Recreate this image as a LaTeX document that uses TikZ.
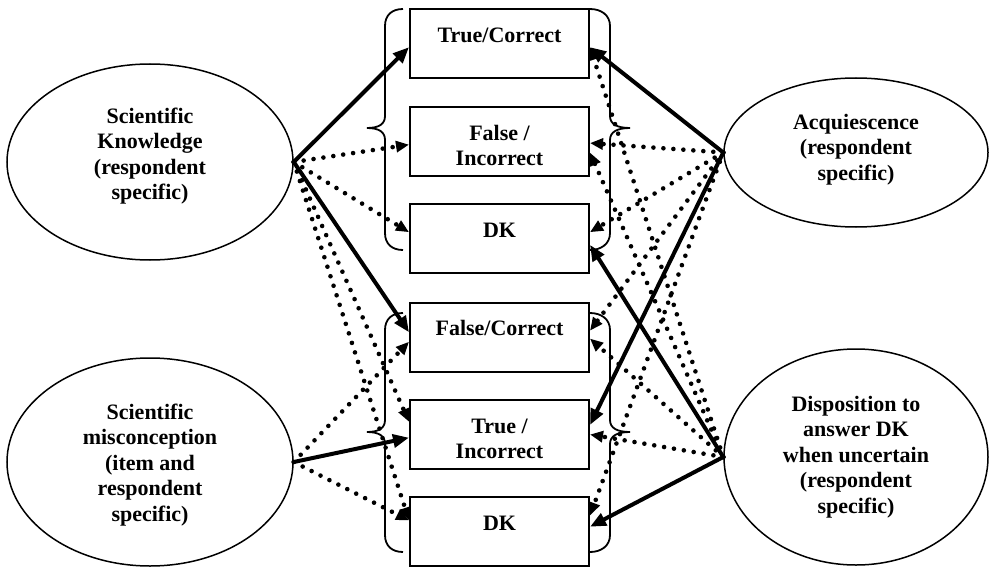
\documentclass[tikz,border=0pt]{standalone}
\usepackage{fontspec}
\setmainfont{Liberation Serif}
\usetikzlibrary{arrows.meta,shapes.geometric}
\newcommand{\topstrut}{\rule{0pt}{23pt}}
\begin{document}
\begin{tikzpicture}[x=1pt,y=-1pt,
  every node/.style={font=\bfseries\fontsize{22}{25.5}\selectfont},
  ell/.style={draw, ellipse, line width=1.5pt, inner sep=0pt},
  lbl/.style={align=center, inner sep=0pt},
  box/.style={draw, rectangle, line width=2pt, minimum width=179pt, minimum height=69pt, align=center, inner sep=0pt},
  brace/.style={line width=1.8pt},
  sol/.style={line width=4pt, -{Triangle[length=16pt,width=13pt]}},
  dot/.style={line width=4.6pt, line cap=round, dash pattern=on 0pt off 10pt, -{Triangle[length=13pt,width=11pt]}}]
\useasboundingbox (0,0) rectangle (990,567);
% latent variables
\node[ell, minimum width=286pt, minimum height=196pt] (sk) at (150,162) {};
\node[lbl] (skt) at ([yshift=6pt]sk.center) {Scientific\\Knowledge\\(respondent\\specific)};
\node[ell, minimum width=286pt, minimum height=208pt] (misc) at (150,462) {};
\node[lbl] (misct) at ([yshift=-3pt]misc.center) {Scientific\\misconception\\(item and\\respondent\\specific)};
\node[ell, minimum width=264pt, minimum height=149pt] (acq) at (856,152.5) {};
\node[lbl] (acqt) at ([yshift=3pt]acq.center) {Acquiescence\\(respondent\\specific)};
\node[ell, minimum width=264pt, minimum height=216pt] (disp) at (856,457) {};
\node[lbl] (dispt) at (disp.center) {Disposition to\\answer DK\\when uncertain\\(respondent\\specific)};
% answer boxes
\node[box] (b1) at (499.5,44) {\topstrut True/Correct\\\mbox{}};
\node[box] (b2) at (499.5,141.5) {\topstrut False /\\Incorrect};
\node[box] (b3) at (499.5,238.5) {\topstrut DK\\\mbox{}};
\node[box] (b4) at (499.5,337) {\topstrut False/Correct\\\mbox{}};
\node[box] (b5) at (499.5,434.5) {\topstrut True /\\Incorrect};
\node[box] (b6) at (499.5,531.5) {\topstrut DK\\\mbox{}};
% braces
\draw[brace] (403,9) .. controls (392,9) and (385,15) .. (385,26) -- (385,116)
  .. controls (385,124) and (379,128) .. (367,128) .. controls (379,128) and (385,132) .. (385,140)
  -- (385,233) .. controls (385,244) and (392,250) .. (403,250);
\draw[brace] (590,9) .. controls (601,9) and (610,15) .. (610,26) -- (610,116)
  .. controls (610,124) and (617,128) .. (630,128) .. controls (617,128) and (610,132) .. (610,140)
  -- (610,233) .. controls (610,244) and (601,250) .. (590,250);
\draw[brace] (403,313) .. controls (392,313) and (385,319) .. (385,330) -- (385,420)
  .. controls (385,428) and (379,432) .. (367,432) .. controls (379,432) and (385,436) .. (385,444)
  -- (385,535) .. controls (385,546) and (392,552) .. (403,552);
\draw[brace] (590,313) .. controls (601,313) and (610,319) .. (610,330) -- (610,420)
  .. controls (610,428) and (617,432) .. (630,432) .. controls (617,432) and (610,436) .. (610,444)
  -- (610,535) .. controls (610,546) and (601,552) .. (590,552);
% left connectors
\draw[sol] (sk.east) -- (b1.182);
\draw[dot] (sk.east) -- (b2.182);
\draw[dot] (sk.east) -- (b3.176);
\draw[sol] (sk.east) -- (b4.177);
\draw[dot] (sk.east) -- (b5.172);
\draw[dot] (sk.east) -- (b6.173);
\draw[dot] (misc.east) -- (b4.183);
\draw[sol] (misc.east) -- (b5.182);
\draw[dot] (misc.east) -- (b6.173);
% right connectors
\draw[sol] (acq.west) -- (b1.358);
\draw[dot] (acq.west) -- (b2.359);
\draw[dot] (acq.west) -- (b3.4);
\draw[dot] (acq.west) -- (b4.4);
\draw[sol] (acq.west) -- (b5.6);
\draw[dot] (acq.west) -- (b6.10);
\draw[dot] (disp.west) -- (b1.358);
\draw[dot] (disp.west) -- (b2.353);
\draw[sol] (disp.west) -- (b3.356);
\draw[dot] (disp.west) -- (b4.359);
\draw[dot] (disp.west) -- (b5.0);
\draw[sol] (disp.west) -- (b6.3);
\end{tikzpicture}
\end{document}
